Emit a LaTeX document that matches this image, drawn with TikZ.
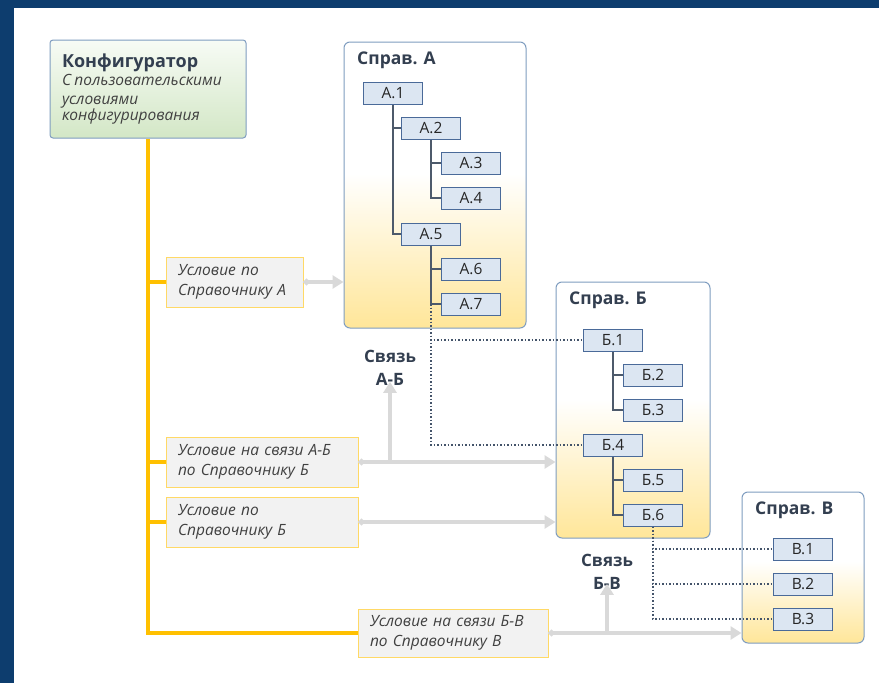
\documentclass[tikz,border=0pt]{standalone}
\usepackage{fontspec}
\setmainfont{Open Sans}
\usetikzlibrary{arrows.meta,positioning}
\definecolor{framebg}{HTML}{0D3D6E}
\definecolor{titlecol}{HTML}{333F50}
\definecolor{sprline}{HTML}{7F9DC0}
\definecolor{sprylw}{HTML}{FFE699}
\definecolor{keyfill}{HTML}{DCE6F2}
\definecolor{keyline}{HTML}{4A6A99}
\definecolor{treecol}{HTML}{4D5A6B}
\definecolor{condfill}{HTML}{F2F2F2}
\definecolor{condline}{HTML}{FFD966}
\definecolor{trunkcol}{HTML}{FFC000}
\definecolor{feedcol}{HTML}{D9D9D9}
\definecolor{dotcol}{HTML}{44546A}
\definecolor{konftop}{HTML}{F7FBF5}
\definecolor{konfbot}{HTML}{D3E7C6}
\pgfdeclareverticalshading{spravshade}{100bp}{color(0bp)=(sprylw); color(25bp)=(sprylw); color(52bp)=(white); color(100bp)=(white)}
\tikzset{
sprav/.style={
  draw=sprline,
  line width=1pt,
  rounded corners=6pt,
  shading=spravshade,
  inner sep=0pt,
  }
}
\tikzset{
keybox/.style={
  draw=keyline,
  fill=keyfill,
  line width=1pt,
  minimum width=59pt,
  minimum height=22pt,
  inner sep=0pt,
  text=black!85,
  font=\fontsize{15.5}{16}\selectfont,
  }
}
\tikzset{
condbox/.style={
  draw=condline,
  fill=condfill,
  line width=1pt,
  minimum height=50pt,
  inner sep=0pt,
  align=left,
  text=black!75,
  font=\fontsize{15.5}{20.5}\selectfont\itshape,
  }
}
\tikzset{
sprtitle/.style={
  anchor=west,
  inner sep=0pt,
  text=titlecol,
  font=\fontsize{17.5}{18}\selectfont\bfseries,
  }
}
\tikzset{
treeline/.style={
  line width=2pt,
  draw=treecol,
  }
}
\tikzset{
trunk/.style={
  line width=4pt,
  draw=trunkcol,
  }
}
\tikzset{
feed/.style={
  line width=4pt,
  draw=feedcol,
  {Circle[length=6pt]}-{Triangle[length=11pt,width=13pt]}
  }
}
\tikzset{
linkline/.style={
  line width=1.5pt,
  draw=dotcol,
  dotted,
  }
}

\begin{document}
\begin{tikzpicture}[x=1pt,y=-1pt]
    % frame
    \fill[framebg] (0,0) rectangle (879,683);
    \fill[white] (14,8) rectangle (879,683);
    \useasboundingbox (0,0) rectangle (879,683);

    % configurator part
    \node[draw=sprline, line width=1pt, rounded corners=3pt, top color=konftop, bottom color=konfbot,
          minimum width=196pt, minimum height=98pt, text width=172pt, align=left, inner sep=0pt] (konf) at (148,89)
          {{\fontsize{18}{20}\selectfont\bfseries\color{titlecol}Конфигуратор}\\[-1pt]
           {\fontsize{15.5}{19}\selectfont\itshape\color{black!75}С пользовательскими\\условиями\\конфигурирования}};

    % conditions
    \node[condbox, minimum width=137pt, text width=113pt] (condA) at (234.5,282) {Условие по\\Справочнику А};
    \node[condbox, minimum width=192pt, text width=168pt] (condAB) at (262,462) {Условие на связи А-Б\\по Справочнику Б};
    \node[condbox, minimum width=192pt, text width=168pt] (condB) at (262,522) {Условие по\\Справочнику Б};
    \node[condbox, minimum width=190pt, minimum height=48pt, text width=166pt] (condBV) at (453,633) {Условие на связи Б-В\\по Справочнику В};

    % sprav A part
    \node[sprav, minimum width=182pt, minimum height=286pt] (spravA) at (435,185) {};
    \node[sprtitle] (titleA) at (357,60) {Справ. А};
    \node[keybox] (a1) at (393,93) {А.1};
    \node[keybox] (a2) at (431,128) {А.2};
    \node[keybox] (a3) at (471,163) {А.3};
    \node[keybox] (a4) at (471,198) {А.4};
    \node[keybox] (a5) at (431,234) {А.5};
    \node[keybox] (a6) at (471,269) {А.6};
    \node[keybox] (a7) at (471,304) {А.7};

    % sprav B part
    \node[sprav, minimum width=154pt, minimum height=256pt] (spravB) at (633,410) {};
    \node[sprtitle] (titleB) at (569,300) {Справ. Б};
    \node[keybox] (b1) at (613,340) {Б.1};
    \node[keybox] (b2) at (653,375) {Б.2};
    \node[keybox] (b3) at (653,410) {Б.3};
    \node[keybox] (b4) at (613,445) {Б.4};
    \node[keybox] (b5) at (653,480) {Б.5};
    \node[keybox] (b6) at (653,515) {Б.6};

    % sprav V part
    \node[sprav, minimum width=122pt, minimum height=151pt] (spravV) at (803,567.5) {};
    \node[sprtitle] (titleV) at (755,510) {Справ. В};
    \node[keybox] (v1) at (803,549) {В.1};
    \node[keybox] (v2) at (803,584) {В.2};
    \node[keybox] (v3) at (803,619) {В.3};

    % link labels
    \node[align=center, inner sep=0pt, text=titlecol, font=\fontsize{17}{23}\selectfont\bfseries] (linkAB) at (390,368) {Связь\\А-Б};
    \node[align=center, inner sep=0pt, text=titlecol, font=\fontsize{17}{23}\selectfont\bfseries] (linkBV) at (607,572) {Связь\\Б-В};

    % tree edges
    \draw[treeline] (a1.south) |- (a2.west);
    \draw[treeline] (a1.south) |- (a5.west);
    \draw[treeline] (a2.south) |- (a3.west);
    \draw[treeline] (a2.south) |- (a4.west);
    \draw[treeline] (a5.south) |- (a6.west);
    \draw[treeline] (a5.south) |- (a7.west);
    \draw[treeline] (b1.south) |- (b2.west);
    \draw[treeline] (b1.south) |- (b3.west);
    \draw[treeline] (b4.south) |- (b5.west);
    \draw[treeline] (b4.south) |- (b6.west);

    % link edges
    \coordinate (ab) at (a5.south |- a7.west);
    \draw[linkline] (ab) |- (b1.west);
    \draw[linkline] (ab) |- (b4.west);
    \draw[linkline] (b6.south) |- (v1.west);
    \draw[linkline] (b6.south) |- (v2.west);
    \draw[linkline] (b6.south) |- (v3.west);

    % trunk edges
    \draw[trunk] (konf.south) |- (condBV.west);
    \draw[trunk] (konf.south |- condA.west) -- (condA.west);
    \draw[trunk] (konf.south |- condAB.west) -- (condAB.west);
    \draw[trunk] (konf.south |- condB.west) -- (condB.west);

    % condition edges
    \draw[feed] (condA.east) -- (spravA.west |- condA.east);
    \draw[feed] (condAB.east) -- (spravB.west |- condAB.east);
    \draw[feed] (condB.east) -- (spravB.west |- condB.east);
    \draw[feed] (condBV.east) -- (spravV.west |- condBV.east);
    \draw[feed, -{Triangle[length=11pt,width=13pt]}] (linkAB.south |- condAB.east) -- ([yshift=4pt]linkAB.south);
    \draw[feed, -{Triangle[length=11pt,width=13pt]}] (linkBV.south |- condBV.east) -- ([yshift=6pt]linkBV.south);
\end{tikzpicture}
\end{document}
